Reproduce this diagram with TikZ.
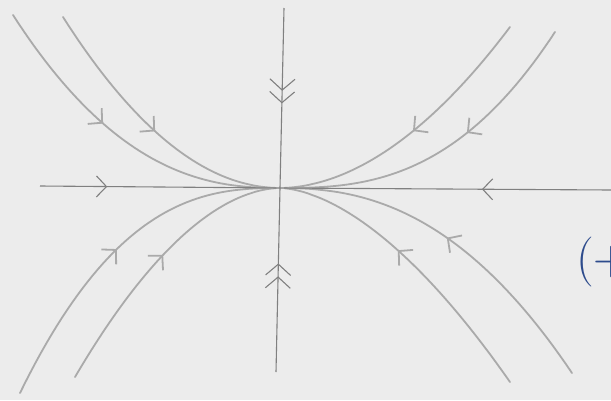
\documentclass[tikz,border=0pt]{standalone}
\usetikzlibrary{arrows.meta,decorations.markings}
\definecolor{bg}{RGB}{236,236,236}
\definecolor{axiscol}{RGB}{128,128,128}
\definecolor{curvecol}{RGB}{170,170,170}
\definecolor{inkblue}{RGB}{45,75,140}
\tikzset{
  axisline/.style={draw=axiscol, line width=1.1pt},
  traj/.style={draw=curvecol, line width=1.8pt, line cap=round, line join=round},
  arrowat/.style={postaction={decorate}, decoration={markings,
      mark=at position #1 with {\arrow{Straight Barb[length=10pt,width=21pt]}}}},
  twoarrows/.style 2 args={postaction={decorate}, decoration={markings,
      mark=at position #1 with {\arrow{Straight Barb[length=11pt,width=25pt]}},
      mark=at position #2 with {\arrow{Straight Barb[length=11pt,width=25pt]}}}}
}
\newcommand\trajcurve[4]{%
  \draw[traj, arrowat=#4] plot[domain=0:0.98, samples=50]
    ({280+(#1)*(1-\x)},{188+(#2)*exp((#3)*ln(1.0001-\x))});}
\begin{document}
\begin{tikzpicture}[x=1pt,y=-1pt]
\useasboundingbox (0,0) rectangle (611,400);
\fill[bg] (0,0) rectangle (611,400);
\clip (0,0) rectangle (611,400);

\coordinate (O) at (280,188);
\coordinate (vt) at (284,8);
\coordinate (vb) at (276,372);
\coordinate (hl) at (40,186);
\coordinate (hr) at (611,190);

% trajectories
\trajcurve{-267}{-173}{2.4}{0.43}
\trajcurve{-217}{-171}{2.0}{0.52}
\trajcurve{230}{-161}{1.9}{0.50}
\trajcurve{275}{-156}{2.7}{0.41}
\trajcurve{-260}{205}{2.6}{0.50}
\trajcurve{-205}{189}{1.85}{0.53}
\trajcurve{292}{185}{2.35}{0.52}
\trajcurve{230}{194}{1.7}{0.57}

% axes
\draw[axisline, arrowat=0.28] (hl) -- (O);
\draw[axisline, arrowat=0.39] (hr) -- (O);
\draw[axisline, twoarrows={0.46}{0.53}] (vt) -- (O);
\draw[axisline, twoarrows={0.52}{0.59}] (vb) -- (O);

\node[text=inkblue, anchor=west, inner sep=0pt,
      font=\fontsize{50}{60}\selectfont] (lbl) at (576,262) {(+};
\end{tikzpicture}
\end{document}
